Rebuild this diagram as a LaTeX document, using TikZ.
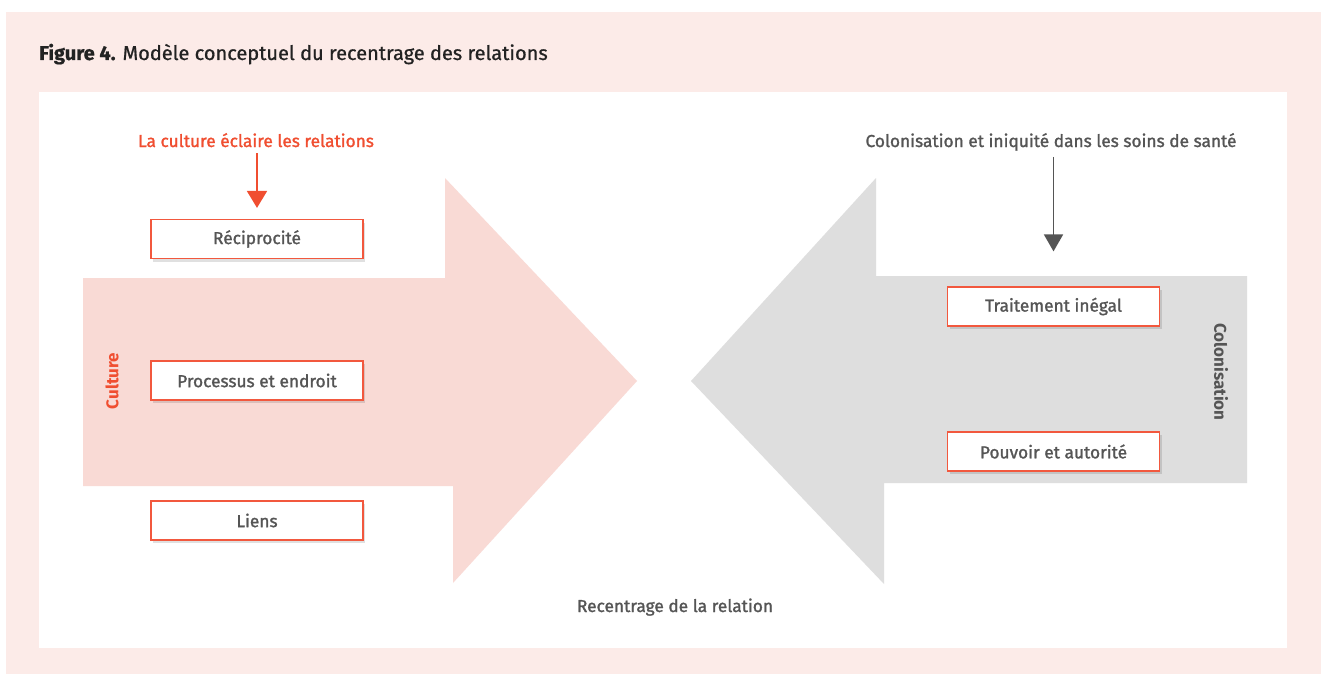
\documentclass[tikz,border=0pt]{standalone}
\usepackage{fontspec}
\setmainfont{Fira Sans}
\newfontfamily\labelfont{Fira Sans}[FakeBold=1.4]
\newfontfamily\titlefont{Fira Sans}[FakeBold=0.8]
\usetikzlibrary{arrows.meta,shadows}
\definecolor{outerpink}{HTML}{FCEBE8}
\definecolor{arrowpink}{HTML}{F9DAD5}
\definecolor{arrowgray}{HTML}{DEDEDE}
\definecolor{accentred}{HTML}{F04E30}
\definecolor{boxborder}{HTML}{F2583E}
\definecolor{txtgray}{HTML}{555555}
\definecolor{titlegray}{HTML}{222222}
\tikzset{
  labelbox/.style={draw=boxborder, line width=1.2pt, fill=white, minimum width=212pt, minimum height=39pt,
    inner sep=0pt, font=\labelfont\fontsize{17.3}{20}\selectfont, text=txtgray,
    drop shadow={shadow xshift=2pt, shadow yshift=-3pt, opacity=0.12, fill=black}},
  plaintext/.style={inner sep=0pt, font=\labelfont\fontsize{17.3}{20}\selectfont},
  redarrow/.style={draw=accentred, line width=1.8pt, -{Triangle[width=20pt,length=17pt]}},
  grayarrow/.style={draw=txtgray, line width=1.8pt, -{Triangle[width=19pt,length=17pt]}}
}
\begin{document}
\begin{tikzpicture}[x=1pt,y=-1pt]
\useasboundingbox (0,0) rectangle (1321,674);
\fill[outerpink] (6,12) rectangle (1321,674);
\fill[white] (39,92) rectangle (1287,648);
\node[anchor=base west, inner sep=0pt, text=titlegray, font=\titlefont\fontsize{20}{24}\selectfont] (title) at (39,60)
  {\textbf{Figure 4.} Modèle conceptuel du recentrage des relations};
% big arrows
\fill[arrowpink] (83,278) -- (445,278) -- (445,178) -- (637,381) -- (453,583) -- (453,486) -- (83,486) -- cycle;
\fill[arrowgray] (1247,276) -- (876,276) -- (876,178) -- (691,381) -- (884,584) -- (884,483) -- (1247,483) -- cycle;
% headings
\node[plaintext, anchor=base, text=accentred] (lc) at (256,147) {La culture éclaire les relations};
\node[plaintext, anchor=base, text=txtgray] (col) at (1051,147) {Colonisation et iniquité dans les soins de santé};
\node[plaintext, anchor=base, text=txtgray] (rec) at (675,612) {Recentrage de la relation};
% side labels
\node[inner sep=0pt, rotate=90, text=accentred, font=\bfseries\fontsize{17}{20}\selectfont] (cult) at (112,381) {Culture};
\node[inner sep=0pt, rotate=-90, text=txtgray, font=\bfseries\fontsize{17}{20}\selectfont] (colo) at (1221,372) {Colonisation};
% boxes
\node[labelbox] (recip) at (257,239) {Réciprocité};
\node[labelbox] (proc) at (257,380.5) {Processus et endroit};
\node[labelbox] (liens) at (257,520.5) {Liens};
\node[labelbox] (trait) at (1053.5,306.5) {Traitement inégal};
\node[labelbox] (pouv) at (1053.5,451.5) {Pouvoir et autorité};
% arrows
\draw[redarrow, shorten <=6pt, shorten >=11pt] (lc.south -| recip.north) -- (recip.north);
\draw[grayarrow, shorten <=6pt, shorten >=35pt] (col.south -| trait.north) -- (trait.north);
\end{tikzpicture}
\end{document}
